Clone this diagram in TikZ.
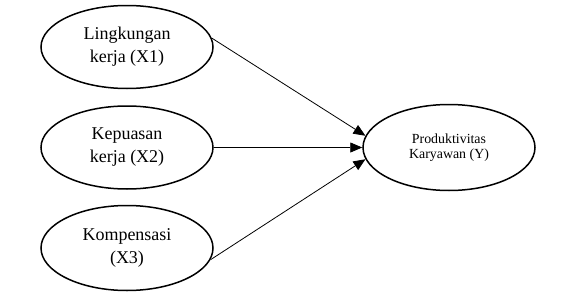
\documentclass[tikz,border=0pt]{standalone}
\usepackage{fontspec}
\setmainfont{Liberation Serif}
\usetikzlibrary{shapes.geometric,arrows.meta}
\begin{document}
\begin{tikzpicture}[x=1pt,y=-1pt,
  var/.style={ellipse,draw,line width=1.5pt,minimum width=172pt,minimum height=83pt,inner sep=0pt,align=center},
  bigtxt/.style={font=\fontsize{18}{23}\selectfont},
  smalltxt/.style={font=\fontsize{13.9}{15.5}\selectfont},
  conn/.style={line width=0.8pt,-{Triangle[length=12pt,width=10pt]}}]
\useasboundingbox (0,0) rectangle (579,292);
\node[var,bigtxt] (e1) at (127,47) {Lingkungan\\kerja (X1)};
\node[var,bigtxt] (e2) at (127,147.5) {Kepuasan\\kerja (X2)};
\node[var,bigtxt,minimum height=85pt] (e3) at (127,248) {Kompensasi\\(X3)};
\node[var,smalltxt,minimum height=86pt] (y) at (449,147.5) {Produktivitas\\Karyawan (Y)};
\draw[conn] (e1.6) -- (y.172);
\draw[conn] (e2.east) -- (y.west);
\draw[conn] (e3.-8) -- (y.188);
\end{tikzpicture}
\end{document}
